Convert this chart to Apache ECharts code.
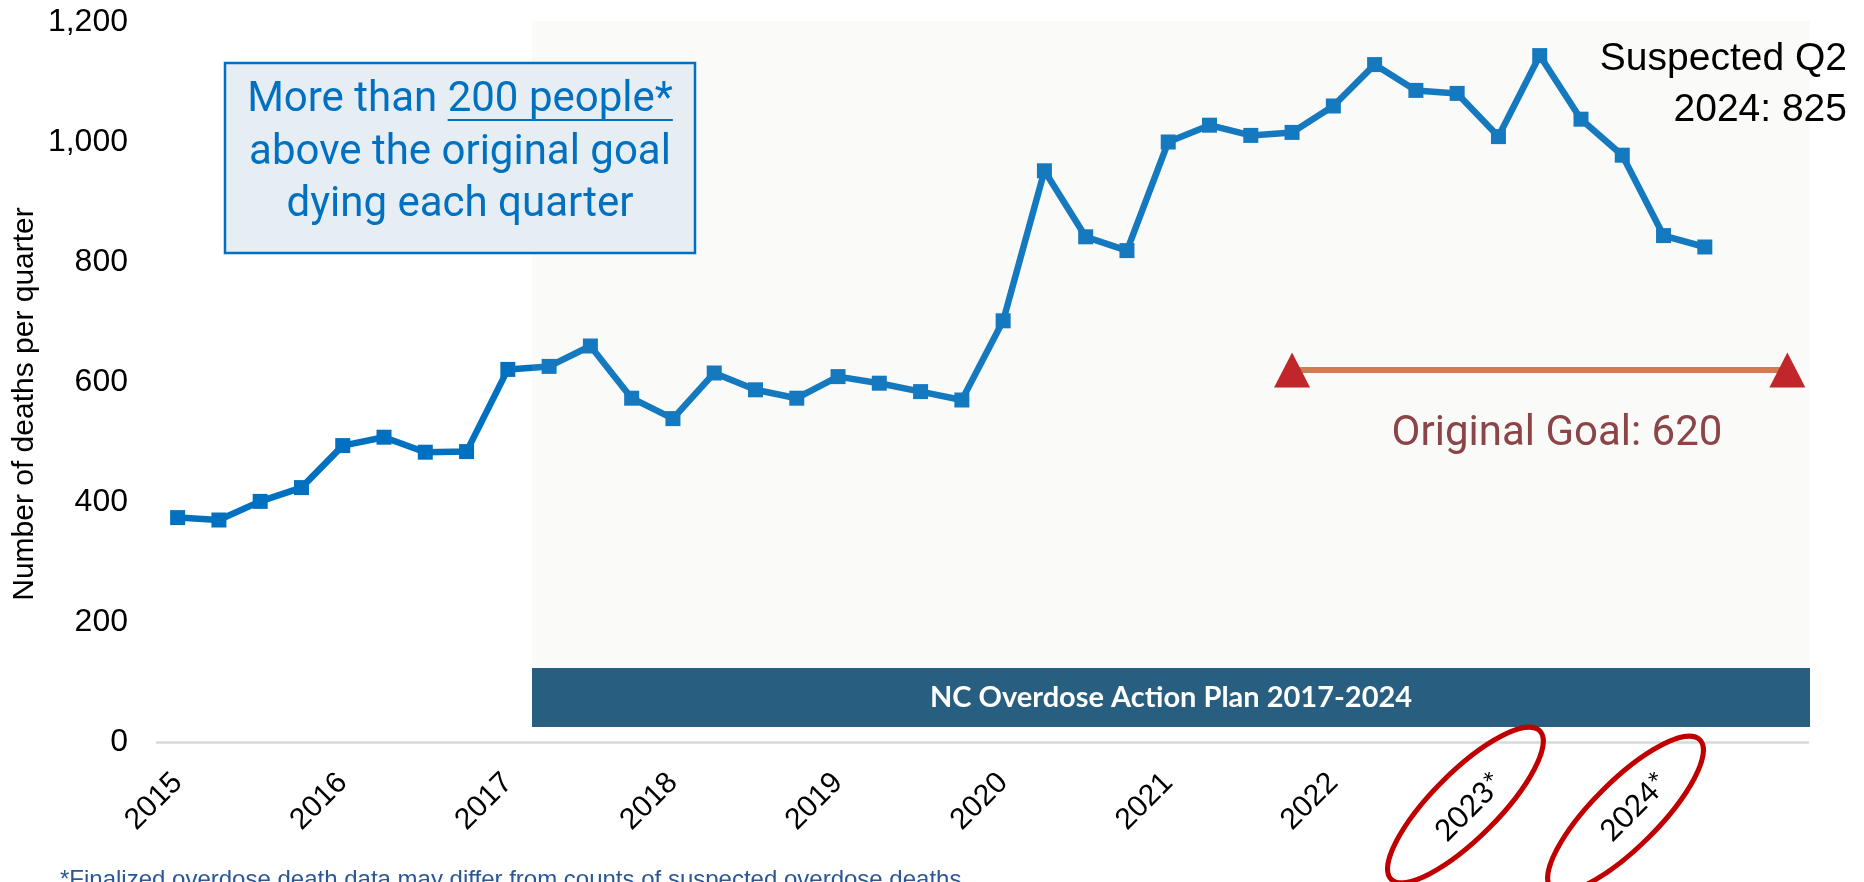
<!DOCTYPE html>
<html>
<head>
<meta charset="utf-8">
<title>NC quarterly overdose deaths</title>
<script src="https://cdn.jsdelivr.net/npm/echarts@6/dist/echarts.min.js"></script>
<style>
  html, body { margin: 0; padding: 0; background: #ffffff; }
  #chart { width: 1864px; height: 882px; }
</style>
</head>
<body>
<div id="chart"></div>
<script>
// Quarters shown on the category axis (2015 Q1 through 2024 Q4)
const quarters = [
  '2015 Q1', '2015 Q2', '2015 Q3', '2015 Q4',
  '2016 Q1', '2016 Q2', '2016 Q3', '2016 Q4',
  '2017 Q1', '2017 Q2', '2017 Q3', '2017 Q4',
  '2018 Q1', '2018 Q2', '2018 Q3', '2018 Q4',
  '2019 Q1', '2019 Q2', '2019 Q3', '2019 Q4',
  '2020 Q1', '2020 Q2', '2020 Q3', '2020 Q4',
  '2021 Q1', '2021 Q2', '2021 Q3', '2021 Q4',
  '2022 Q1', '2022 Q2', '2022 Q3', '2022 Q4',
  '2023 Q1', '2023 Q2', '2023 Q3', '2023 Q4',
  '2024 Q1', '2024 Q2', '2024 Q3', '2024 Q4'
];

// Year labels placed under the first quarter of each year
const yearLabels = ['2015', '2016', '2017', '2018', '2019', '2020', '2021', '2022', '2023*', '2024*'];

// Overdose deaths per quarter (2023 onward are suspected counts)
const deaths = [
  374, 370, 401, 424,
  494, 508, 483, 484,
  621, 626, 660, 573,
  539, 615, 587, 573,
  609, 598, 584, 570,
  702, 952, 842, 819,
  1000, 1028, 1011, 1016,
  1060, 1129, 1086, 1081,
  1009, 1144, 1038, 978,
  844, 825, null, null
];

// Original plan goal and the quarters the goal marker spans
const goal = 620;
const goalFrom = '2021 Q4';
const goalTo = '2024 Q4';

// Value axis range
const yMin = 0, yMax = 1200, yStep = 200;

const ARIAL = '"Liberation Sans", Arial, sans-serif';
const FRANKLIN = 'Roboto, "Liberation Sans", sans-serif';
const CALIBRI = 'Lato, "Open Sans", sans-serif';

const chart = echarts.init(document.getElementById('chart'), null, { renderer: 'canvas' });

// Goal line: only between the two goal quarters, with triangle caps at each end
const iFrom = quarters.indexOf(goalFrom);
const iTo = quarters.indexOf(goalTo);
const goalData = quarters.map((q, i) => {
  if (i < iFrom || i > iTo) return null;
  const cap = (i === iFrom || i === iTo);
  return {
    value: goal,
    symbol: cap ? 'triangle' : 'none',
    symbolSize: cap ? [36, 35] : 0,
    itemStyle: { color: '#C0151A' }
  };
});

const lastIndex = deaths.reduce((acc, v, i) => (v != null ? i : acc), -1);
const lastQuarter = quarters[lastIndex];           // e.g. '2024 Q2'
const lastQ = lastQuarter.split(' ');

chart.setOption({
  animation: false,
  backgroundColor: '#ffffff',
  grid: { left: 157, right: 56, top: 22, bottom: 140, containLabel: false },
  xAxis: {
    type: 'category',
    data: quarters,
    boundaryGap: true,
    axisLine: { show: true, lineStyle: { color: '#D9D9D9', width: 2.5 } },
    axisTick: { show: false },
    splitLine: { show: false },
    axisLabel: {
      interval: 0,
      rotate: 45,
      margin: 36,
      color: '#000000',
      fontFamily: ARIAL,
      fontSize: 30,
      formatter: (val, idx) => {
        if (idx % 4 !== 0) return '';
        const lab = yearLabels[idx / 4];
        return lab.indexOf('*') >= 0 ? '{s|' + lab + '}' : lab;
      },
      rich: {
        s: { fontFamily: CALIBRI, fontSize: 30, color: '#000000' }
      }
    }
  },
  yAxis: {
    type: 'value',
    min: yMin,
    max: yMax,
    interval: yStep,
    axisLine: { show: false },
    axisTick: { show: false },
    splitLine: { show: false },
    axisLabel: {
      margin: 29,
      color: '#000000',
      fontFamily: ARIAL,
      fontSize: 32,
      formatter: v => v.toLocaleString('en-US')
    }
  },
  series: [
    {
      name: 'Deaths',
      type: 'line',
      data: deaths,
      symbol: 'rect',
      symbolSize: 15,
      showAllSymbol: true,
      connectNulls: false,
      lineStyle: { color: '#0070C0', width: 6.5 },
      itemStyle: { color: '#0070C0' },
      z: 3
    },
    {
      name: 'Original Goal',
      type: 'line',
      data: goalData,
      showAllSymbol: true,
      lineStyle: { color: '#CD7548', width: 6 },
      itemStyle: { color: '#C0151A' },
      z: 4
    }
  ]
});

// Annotation layer
function ellipseAt(catName, dx, dy) {
  const p = chart.convertToPixel({ xAxisIndex: 0, yAxisIndex: 0 }, [catName, 0]);
  return {
    type: 'ellipse',
    x: p[0] + dx,
    y: p[1] + dy,
    rotation: Math.PI / 4,
    shape: { cx: 0, cy: 0, rx: 105, ry: 33 },
    style: { fill: null, stroke: '#C00000', lineWidth: 5 },
    z: 30
  };
}

const measure = (() => {
  const ctx = document.createElement('canvas').getContext('2d');
  return (txt, font) => { ctx.font = font; return ctx.measureText(txt).width; };
})();

const boxFont = '42px ' + FRANKLIN;
const boxCx = 460;
const line1a = 'More than ';
const line1b = '200 people*';
const w1 = measure(line1a + line1b, boxFont);
const wA = measure(line1a, boxFont);
const ulStart = boxCx - w1 / 2 + wA;
const ulEnd = boxCx + w1 / 2;

chart.setOption({
  graphic: [
    // shaded action-plan period
    {
      type: 'rect',
      shape: { x: 532, y: 21, width: 1278, height: 647 },
      style: { fill: 'rgba(205,205,190,0.1)' },
      z: 10, silent: true
    },
    // action plan banner
    {
      type: 'rect',
      shape: { x: 532, y: 668, width: 1278, height: 59 },
      style: { fill: '#285F80' },
      z: 11
    },
    {
      type: 'text',
      x: 1171, y: 698,
      style: {
        text: 'NC Overdose Action Plan 2017-2024',
        fill: '#ffffff',
        font: 'bold 29px ' + CALIBRI,
        textAlign: 'center', textVerticalAlign: 'middle'
      },
      z: 12
    },
    // callout box
    {
      type: 'rect',
      shape: { x: 225, y: 63, width: 470, height: 190 },
      style: { fill: '#E6EEF4', stroke: '#0070C0', lineWidth: 2.5 },
      z: 20
    },
    {
      type: 'text', x: boxCx, y: 100,
      style: { text: line1a + line1b, fill: '#0070C0', font: boxFont, textAlign: 'center', textVerticalAlign: 'middle' },
      z: 21
    },
    {
      type: 'line',
      shape: { x1: ulStart, y1: 120, x2: ulEnd, y2: 120 },
      style: { stroke: '#0070C0', lineWidth: 2 },
      z: 21
    },
    {
      type: 'text', x: boxCx, y: 153,
      style: { text: 'above the original goal', fill: '#0070C0', font: boxFont, textAlign: 'center', textVerticalAlign: 'middle' },
      z: 21
    },
    {
      type: 'text', x: boxCx, y: 205,
      style: { text: 'dying each quarter', fill: '#0070C0', font: boxFont, textAlign: 'center', textVerticalAlign: 'middle' },
      z: 21
    },
    // latest value callout
    {
      type: 'text', x: 1847, y: 59,
      style: { text: 'Suspected ' + lastQ[1], fill: '#000000', font: '39px ' + ARIAL, textAlign: 'right', textVerticalAlign: 'middle' },
      z: 21
    },
    {
      type: 'text', x: 1847, y: 110,
      style: { text: lastQ[0] + ': ' + deaths[lastIndex], fill: '#000000', font: '39px ' + ARIAL, textAlign: 'right', textVerticalAlign: 'middle' },
      z: 21
    },
    // goal label
    {
      type: 'text', x: 1557, y: 434,
      style: { text: 'Original Goal: ' + goal, fill: '#8B4448', font: '42px ' + FRANKLIN, textAlign: 'center', textVerticalAlign: 'middle' },
      z: 21
    },
    // axis title
    {
      type: 'text', x: 25, y: 404,
      rotation: Math.PI / 2,
      style: { text: 'Number of deaths per quarter', fill: '#000000', font: '30px ' + ARIAL, textAlign: 'center', textVerticalAlign: 'middle' },
      z: 21
    },
    // circled provisional years
    ellipseAt('2023 Q1', -33, 63),
    ellipseAt('2024 Q1', -38, 72),
    // footnote
    {
      type: 'text', x: 60, y: 868,
      style: {
        text: '*Finalized overdose death data may differ from counts of suspected overdose deaths',
        fill: '#2B5797', font: '24px ' + ARIAL, textAlign: 'left', textVerticalAlign: 'top'
      },
      z: 21
    }
  ]
});
</script>
</body>
</html>
